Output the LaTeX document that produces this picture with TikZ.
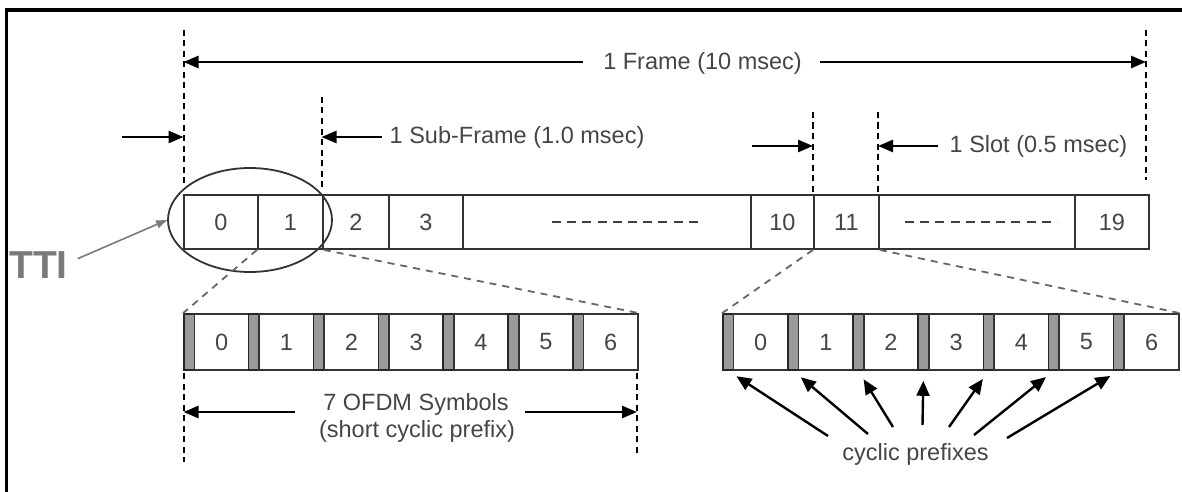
\documentclass[tikz,border=0pt]{standalone}
\usepackage{fontspec}
\setmainfont{Liberation Sans}
\usetikzlibrary{arrows.meta,calc,shapes.geometric}
\definecolor{txt}{HTML}{454545}
\definecolor{boxline}{HTML}{333333}
\definecolor{cpfill}{HTML}{9A9A9A}
\definecolor{zoomline}{HTML}{666666}
\definecolor{ttigray}{HTML}{7A7A7A}
\newcommand{\lblfont}{\fontsize{23.5}{26}\selectfont}
\begin{document}
\begin{tikzpicture}[x=1pt,y=-1pt,
  lbl/.style={font=\lblfont, text=txt, inner sep=0pt},
  cell/.style={draw=boxline, line width=1.8pt, minimum height=54pt, inner sep=0pt, anchor=west, font=\lblfont, text=txt},
  cpbar/.style={draw=black!85, fill=cpfill, line width=1.6pt, minimum height=56pt, minimum width=10.5pt, inner sep=0pt, anchor=west},
  sym/.style={draw=boxline, line width=1.8pt, minimum height=56pt, inner sep=0pt, anchor=west, font=\lblfont, text=txt},
  guide/.style={draw=black, line width=2pt, dash pattern=on 6pt off 4.5pt},
  zoomed/.style={draw=zoomline, line width=1.8pt, dash pattern=on 7pt off 6pt},
  rowdash/.style={draw=black!75, line width=1.6pt, dash pattern=on 9pt off 6.2pt},
  dimarrow/.style={draw=black, line width=2.6pt, -{Triangle[length=15pt,width=12pt]}},
  cparrow/.style={draw=black, line width=2.4pt, -{Triangle[length=15pt,width=13pt]}, shorten >=10pt},
  ttiarrow/.style={draw=ttigray, line width=1.6pt, -{Triangle[length=11pt,width=8pt]}}
]
\useasboundingbox (0,0) rectangle (1182,492);
% outer frame (only left and top edges visible)
\draw[line width=3.2pt, black] (6.5,500) -- (6.5,10) -- (1190,10);

% guide coordinates
\coordinate (gF1t) at (183.5,30);  \coordinate (gF1b) at (183.5,187);
\coordinate (gF2t) at (1146,30);   \coordinate (gF2b) at (1146,180);
\coordinate (gS1t) at (321.5,97);  \coordinate (gS1b) at (321.5,187);
\coordinate (gL1t) at (813,112);   \coordinate (gL1b) at (813,195);
\coordinate (gL2t) at (878,112);   \coordinate (gL2b) at (878,195);
\coordinate (gO1t) at (183.5,373); \coordinate (gO1b) at (183.5,462);
\coordinate (gO2t) at (637,373);   \coordinate (gO2b) at (637,455);
\foreach \g in {gF1,gF2,gS1,gL1,gL2,gO1,gO2} {\draw[guide] (\g t) -- (\g b);}

% frame label and arrows
\node[lbl, anchor=base] (frame) at (702.5,70) {1 Frame (10 msec)};
\coordinate (frL) at (583,62);
\coordinate (frR) at (820,62);
\draw[dimarrow] (frL) -- (gF1t |- frL);
\draw[dimarrow] (frR) -- (gF2t |- frR);

% sub-frame
\node[lbl, anchor=base west] (subframe) at (389.5,143) {1 Sub-Frame (1.0 msec)};
\coordinate (sfIn) at (122,137);
\coordinate (sfTail) at (382,137);
\draw[dimarrow] (sfIn) -- (gF1t |- sfIn);
\draw[dimarrow] (sfTail) -- (gS1t |- sfTail);

% slot
\node[lbl, anchor=base west] (slot) at (949.5,152) {1 Slot (0.5 msec)};
\coordinate (slIn) at (752,146);
\coordinate (slTail) at (938,146);
\draw[dimarrow] (slIn) -- (gL1t |- slIn);
\draw[dimarrow] (slTail) -- (gL2t |- slTail);

% main row
\node[cell, minimum width=74pt]  (c0)  at (183,222) {0};
\node[cell, minimum width=65pt]  (c1)  at (257,222) {1};
\node[cell, minimum width=66pt]  (c2)  at (322,222) {2};
\node[cell, minimum width=74pt]  (c3)  at (388,222) {3};
\node[cell, minimum width=288pt] (d1)  at (462,222) {};
\node[cell, minimum width=63pt]  (c10) at (750,222) {10};
\node[cell, minimum width=65pt]  (c11) at (813,222) {11};
\node[cell, minimum width=196pt] (d2)  at (878,222) {};
\node[cell, minimum width=74pt]  (c19) at (1074,222) {19};
\draw[rowdash] (552,222) -- (703,222);
\draw[rowdash] (905,222) -- (1057,222);

% TTI ellipse and label
\node[ellipse, draw=boxline, line width=1.8pt, minimum width=164pt, minimum height=104pt, inner sep=0pt] (ttiell) at (250,220) {};
\node[anchor=base west, inner sep=0pt, font=\bfseries\fontsize{39}{40}\selectfont, text=ttigray] (tti) at (9,278) {TTI};
\draw[ttiarrow] ($(tti.east)+(10,-6)$) -- (ttiell.west);

% left OFDM symbols
\foreach \k in {0,...,6} {
  \pgfmathsetmacro{\xs}{183+64.86*\k}
  \node[cpbar] (Lb\k) at (\xs,342) {};
  \node[sym, minimum width=54.36pt] (Ls\k) at (\xs+10.5,342) {\k};
}
% right OFDM symbols
\foreach \k in {0,...,6} {
  \pgfmathsetmacro{\xs}{722+65.14*\k}
  \node[cpbar] (Rb\k) at (\xs,342) {};
  \node[sym, minimum width=54.64pt] (Rs\k) at (\xs+10.5,342) {\k};
}

% zoom lines
\draw[zoomed] (c1.south west) -- (Lb0.north west);
\draw[zoomed] (c1.south east) -- (Ls6.north east);
\draw[zoomed] (c11.south west) -- (Rb0.north west);
\draw[zoomed] (c11.south east) -- (Rs6.north east);

% 7 OFDM symbols label
\node[lbl, anchor=base] (ofdm1) at (416,410.5) {7 OFDM Symbols};
\node[lbl, anchor=base] (ofdm2) at (417,437) {(short cyclic prefix)};
\coordinate (oLt) at (295,412);
\coordinate (oRt) at (525,412);
\draw[dimarrow] (oLt) -- (gO1t |- oLt);
\draw[dimarrow] (oRt) -- (gO2t |- oRt);

% cyclic prefixes
\node[lbl, anchor=base] (cp) at (915.5,460) {cyclic prefixes};
\coordinate (t0) at (828,436);
\coordinate (t1) at (868,434);
\coordinate (t2) at (893,427);
\coordinate (t3) at (922.5,425);
\coordinate (t4) at (949,427);
\coordinate (t5) at (974,435);
\coordinate (t6) at (1007,438);
\foreach \k in {0,...,6} {\draw[cparrow] (t\k) -- (Rb\k.south);}
\end{tikzpicture}
\end{document}
